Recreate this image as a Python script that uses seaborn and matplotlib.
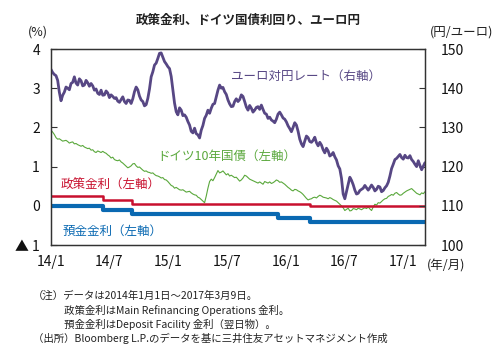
import numpy as np
import pandas as pd
import matplotlib
matplotlib.use("Agg")
import matplotlib.pyplot as plt
import seaborn as sns

# ---- data (~5-day spacing) ----
start_date = "2014-01-01"
end_date = "2017-03-09"

eurjpy = [
    144.8, 144.0, 143.5, 143.2, 142.0, 139.0, 136.8, 138.2, 139.0, 140.3,
    140.0, 139.6, 141.2, 141.5, 142.9, 141.3, 140.8, 142.4, 141.9, 140.6,
    140.8, 142.0, 141.4, 140.5, 141.2, 140.6, 139.5, 139.8, 138.7, 138.4,
    139.5, 138.2, 138.3, 139.3, 138.8, 137.6, 138.3, 137.9, 137.4, 137.6,
    136.7, 136.4, 137.1, 137.8, 136.6, 136.1, 137.0, 136.9, 136.1, 137.3,
    139.1, 140.3, 139.6, 138.0, 137.0, 136.6, 135.5, 135.8, 137.4, 139.8,
    142.9, 144.2, 145.9, 146.4, 147.6, 148.9, 149.0, 147.9, 146.8, 146.2,
    145.5, 145.0, 143.0, 139.5, 136.2, 134.0, 133.2, 135.0, 134.4, 133.0,
    133.2, 132.6, 131.5, 130.6, 129.0, 128.6, 129.8, 128.4, 128.1, 127.3,
    129.3, 130.5, 132.3, 133.1, 134.4, 133.6, 134.9, 135.9, 136.1, 137.8,
    139.5, 140.8, 140.0, 140.2, 139.1, 138.4, 137.0, 136.0, 135.3, 135.4,
    136.6, 137.3, 136.6, 137.1, 138.3, 137.9, 136.6, 135.2, 134.4, 135.6,
    134.9, 133.9, 134.4, 135.1, 135.3, 134.6, 135.7, 134.6, 133.6, 133.4,
    132.3, 132.6, 131.9, 131.6, 131.2, 132.1, 133.4, 133.9, 133.2, 132.4,
    132.1, 131.4, 130.4, 129.7, 128.9, 130.0, 131.2, 130.6, 129.0, 127.0,
    125.8, 125.1, 126.5, 127.8, 127.4, 126.4, 126.2, 126.7, 127.5, 126.1,
    125.3, 126.2, 125.5, 124.3, 123.5, 124.7, 124.0, 122.7, 123.0, 123.6,
    122.5, 121.7, 120.2, 119.4, 117.0, 113.0, 111.8, 113.6, 115.5, 117.3,
    116.5, 115.4, 114.0, 113.0, 113.2, 113.9, 114.2, 114.5, 115.2, 114.6,
    114.0, 114.6, 115.3, 114.7, 113.8, 114.2, 115.0, 114.8, 113.6, 113.9,
    114.6, 115.1, 116.0, 117.6, 119.5, 120.6, 121.8, 122.1, 122.6, 123.1,
    122.3, 121.9, 122.9, 122.3, 122.2, 122.8, 121.8, 121.3, 120.6, 120.0,
    121.5, 120.3, 119.2, 120.1, 121.0,
]

bund10y = [
    1.93, 1.88, 1.82, 1.74, 1.70, 1.71, 1.68, 1.65, 1.66, 1.67,
    1.64, 1.60, 1.62, 1.63, 1.58, 1.59, 1.56, 1.54, 1.52, 1.54,
    1.50, 1.48, 1.46, 1.47, 1.42, 1.43, 1.38, 1.36, 1.40, 1.38,
    1.36, 1.39, 1.36, 1.34, 1.30, 1.27, 1.22, 1.24, 1.18, 1.16,
    1.15, 1.17, 1.12, 1.09, 1.05, 1.01, 0.97, 0.99, 1.02, 1.07,
    1.08, 1.02, 0.98, 0.99, 0.95, 0.91, 0.88, 0.89, 0.86, 0.85,
    0.83, 0.84, 0.80, 0.77, 0.76, 0.74, 0.71, 0.72, 0.67, 0.66,
    0.62, 0.57, 0.52, 0.50, 0.45, 0.47, 0.44, 0.41, 0.40, 0.41,
    0.38, 0.35, 0.36, 0.37, 0.33, 0.30, 0.28, 0.27, 0.22, 0.20,
    0.16, 0.12, 0.08, 0.25, 0.45, 0.62, 0.68, 0.64, 0.72, 0.81,
    0.90, 0.84, 0.86, 0.89, 0.84, 0.79, 0.82, 0.76, 0.78, 0.75,
    0.72, 0.73, 0.68, 0.63, 0.66, 0.71, 0.78, 0.76, 0.72, 0.68,
    0.66, 0.64, 0.62, 0.60, 0.58, 0.61, 0.58, 0.55, 0.62, 0.60,
    0.58, 0.61, 0.57, 0.59, 0.62, 0.66, 0.64, 0.60, 0.61, 0.58,
    0.55, 0.51, 0.47, 0.44, 0.40, 0.38, 0.42, 0.41, 0.38, 0.36,
    0.33, 0.29, 0.24, 0.19, 0.15, 0.17, 0.18, 0.21, 0.22, 0.20,
    0.24, 0.27, 0.25, 0.22, 0.21, 0.20, 0.18, 0.21, 0.19, 0.16,
    0.14, 0.12, 0.08, 0.04, 0.00, -0.05, -0.12, -0.09, -0.06, -0.13,
    -0.12, -0.07, -0.08, -0.10, -0.06, -0.08, -0.10, -0.07, -0.05, -0.07,
    -0.03, -0.08, -0.12, -0.03, 0.04, 0.02, 0.08, 0.07, 0.11, 0.15,
    0.18, 0.19, 0.24, 0.26, 0.29, 0.27, 0.32, 0.34, 0.30, 0.27,
    0.28, 0.32, 0.35, 0.38, 0.40, 0.42, 0.44, 0.40, 0.36, 0.32,
    0.30, 0.28, 0.33, 0.31, 0.36,
]

policy_dates = ["2014-01-01", "2014-06-11", "2014-09-10", "2016-03-16", "2017-03-09"]
policy_rate = [0.25, 0.15, 0.05, 0.00, 0.00]

deposit_dates = ["2014-01-01", "2014-06-11", "2014-09-10", "2015-12-09",
                 "2016-03-16", "2017-03-09"]
deposit_rate = [0.00, -0.10, -0.20, -0.30, -0.40, -0.40]

x_tick_dates = ["2014-01-01", "2014-07-01", "2015-01-01", "2015-07-01",
                "2016-01-01", "2016-07-01", "2017-01-01"]
x_tick_labels = ["14/1", "14/7", "15/1", "15/7", "16/1", "16/7", "17/1"]
left_ticks = [-1, 0, 1, 2, 3, 4]
left_tick_labels = ["▲ 1", "0", "1", "2", "3", "4"]
right_ticks = [100, 110, 120, 130, 140, 150]

notes = [
    "（注）データは2014年1月1日～2017年3月9日。",
    "　　　政策金利はMain Refinancing Operations 金利。",
    "　　　預金金利はDeposit Facility 金利（翌日物）。",
    "（出所）Bloomberg L.P.のデータを基に三井住友アセットマネジメント作成",
]

PURPLE = "#574784"
GREEN = "#5aa83c"
RED = "#c8102e"
BLUE = "#0a69b2"
DARK = "#333333"


def main():
    sns.set_theme(style="white")
    plt.rcParams["font.family"] = ["Noto Sans CJK JP", "DejaVu Sans"]

    t0, t1 = pd.Timestamp(start_date), pd.Timestamp(end_date)
    fx_df = pd.DataFrame({
        "date": pd.to_datetime(np.linspace(t0.value, t1.value, len(eurjpy))),
        "value": eurjpy,
    })
    bund_df = pd.DataFrame({
        "date": pd.to_datetime(np.linspace(t0.value, t1.value, len(bund10y))),
        "value": bund10y,
    })
    policy_df = pd.DataFrame({"date": pd.to_datetime(policy_dates), "value": policy_rate})
    deposit_df = pd.DataFrame({"date": pd.to_datetime(deposit_dates), "value": deposit_rate})

    fig = plt.figure(figsize=(4.96, 3.63), dpi=100)
    ax = fig.add_axes([0.1028, 0.325, 0.754, 0.54])

    sns.lineplot(data=bund_df, x="date", y="value", ax=ax, color=GREEN, linewidth=0.8)
    sns.lineplot(data=deposit_df, x="date", y="value", ax=ax, color=BLUE,
                 linewidth=3.0, drawstyle="steps-post")
    sns.lineplot(data=policy_df, x="date", y="value", ax=ax, color=RED,
                 linewidth=1.8, drawstyle="steps-post")

    ax2 = ax.twinx()
    sns.lineplot(data=fx_df, x="date", y="value", ax=ax2, color=PURPLE, linewidth=2.0)

    ax.set_xlim(t0, t1)
    ax.set_ylim(-1, 4)
    ax2.set_ylim(100, 150)

    ax.set_xticks(pd.to_datetime(x_tick_dates))
    ax.set_xticklabels(x_tick_labels)
    ax.set_yticks(left_ticks)
    ax.set_yticklabels(left_tick_labels)
    ax2.set_yticks(right_ticks)
    ax2.set_yticklabels([str(v) for v in right_ticks])

    for a in (ax, ax2):
        a.set_xlabel("")
        a.set_ylabel("")
        for s in a.spines.values():
            s.set_color(DARK)
            s.set_linewidth(0.9)
    ax.tick_params(axis="x", direction="in", length=4, width=0.8, color=DARK,
                   pad=7, labelsize=10, labelcolor="#111111")
    ax.tick_params(axis="y", direction="in", length=4, width=0.8, color=DARK,
                   pad=8, labelsize=10, labelcolor="#111111")
    ax2.tick_params(axis="y", direction="in", length=4, width=0.8, color=DARK,
                    pad=11, labelsize=10, labelcolor="#111111")

    fig.text(0.5, 0.945, "政策金利、ドイツ国債利回り、ユーロ円", ha="center", va="center",
             fontsize=9, fontweight="bold", color="#222222")
    fig.text(0.077, 0.912, "(%)", ha="center", va="center", fontsize=9, color="#222222")
    fig.text(0.93, 0.912, "(円/ユーロ)", ha="center", va="center", fontsize=9, color="#222222")
    fig.text(0.90, 0.268, "(年/月)", ha="center", va="center", fontsize=9, color="#222222")

    ax.text(0.48, 0.86, "ユーロ対円レート（右軸）", transform=ax.transAxes,
            fontsize=9, color=PURPLE, va="center")
    ax.text(0.285, 0.455, "ドイツ10年国債（左軸）", transform=ax.transAxes,
            fontsize=9, color=GREEN, va="center")
    ax.text(0.025, 0.305, "政策金利（左軸）", transform=ax.transAxes,
            fontsize=9, color=RED, va="center")
    ax.text(0.03, 0.07, "預金金利（左軸）", transform=ax.transAxes,
            fontsize=9, color=BLUE, va="center")

    for i, line in enumerate(notes):
        fig.text(0.066, 0.185 - i * 0.039, line, ha="left", va="center",
                 fontsize=7.5, color="#222222")

    fig.savefig("out.png", dpi=100)


if __name__ == "__main__":
    main()
